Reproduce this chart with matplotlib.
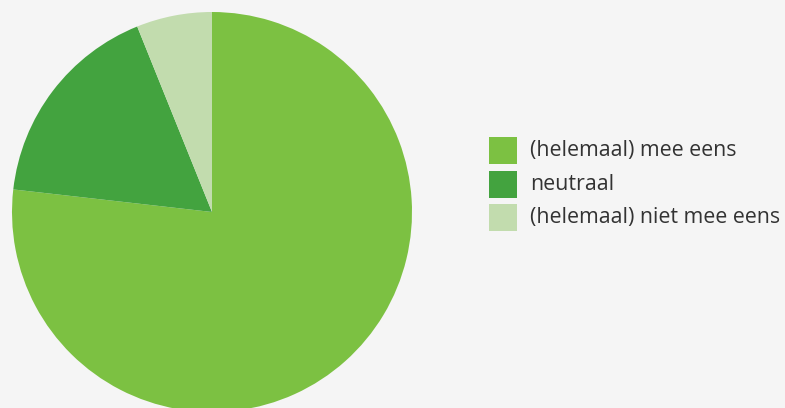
import matplotlib
matplotlib.use("Agg")
import matplotlib.pyplot as plt
from matplotlib.patches import Rectangle

# data
labels = ['(helemaal) mee eens', 'neutraal', '(helemaal) niet mee eens']
values = [76.8, 17.1, 6.1]
colors = ['#7cc142', '#43a33f', '#c2dcae']

W, H = 785, 408
fig = plt.figure(figsize=(W / 100, H / 100), dpi=100)
fig.patch.set_facecolor('#f5f5f5')

# pie centre ~(212, 212) px from top, radius ~200 px
cx, cy, r = 212, 212, 200
ax = fig.add_axes([(cx - r) / W, (H - cy - r) / H, 2 * r / W, 2 * r / H])
ax.pie(values, colors=colors, startangle=90, counterclock=False,
       wedgeprops=dict(linewidth=0))
ax.set_aspect('equal')
ax.set_xlim(-1, 1)
ax.set_ylim(-1, 1)
ax.axis('off')

# legend, drawn by hand
box_x, box_w, box_h = 489, 28, 27
row_top = [137, 171, 204]
for lab, col, top in zip(labels, colors, row_top):
    fig.patches.append(Rectangle((box_x / W, (H - top - box_h) / H), box_w / W, box_h / H,
                                 transform=fig.transFigure, facecolor=col, edgecolor='none'))
    fig.text(530 / W, (H - top - box_h / 2) / H, lab, fontsize=15.4, family='Open Sans',
             color='#333333', va='center', ha='left')

fig.savefig('out.png', dpi=100, facecolor=fig.get_facecolor())
